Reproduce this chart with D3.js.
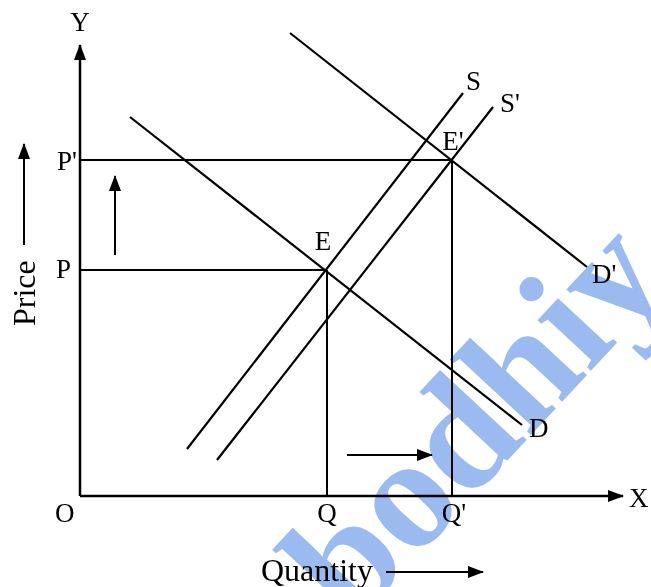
<!DOCTYPE html>
<html><head><meta charset="utf-8">
<script src="https://cdn.jsdelivr.net/npm/d3@7"></script>
<style>body{margin:0;background:#fff}svg{display:block}text{font-family:"Liberation Serif","Times New Roman",serif}</style>
</head><body>
<svg id="c" width="651" height="587"></svg>
<script>
// Data (diagram units: quantity on x, price on y)
const axisLabels = {x:"X", y:"Y", origin:"O", xTitle:"Quantity", yTitle:"Price"};
const priceLevels = [{name:"P", v:226}, {name:"P'", v:336}];
const quantityLevels = [{name:"Q", v:247}, {name:"Q'", v:372}];
const equilibria = [{name:"E", q:247, p:226}, {name:"E'", q:372, p:336}];
const curveD  = [[50,379],[442,71]];
const curveD2 = [[210,463],[507,229]];
const curveS  = [[107,47],[383,403]];
const curveS2 = [[137,36],[413,389]];
const curves = [
  {name:"D",  pts:curveD,  lx:529, ly:437},
  {name:"D'", pts:curveD2, lx:592, ly:283},
  {name:"S",  pts:curveS,  lx:466, ly:90},
  {name:"S'", pts:curveS2, lx:500, ly:112}
];
const watermark = "bodhiy";

const svg = d3.select("#c");
const x = d3.scaleLinear().domain([0,540]).range([80,620]);
const y = d3.scaleLinear().domain([0,450]).range([496,46]);

const defs = svg.append("defs");
defs.append("marker").attr("id","ah").attr("viewBox","0 0 16 12").attr("refX",15).attr("refY",6)
  .attr("markerWidth",16).attr("markerHeight",12).attr("markerUnits","userSpaceOnUse").attr("orient","auto")
  .append("path").attr("d","M0,0 L16,6 L0,12 Z").attr("fill","#000");

const g = svg.append("g");
const line = d3.line().x(d=>x(d[0])).y(d=>y(d[1]));

// axes
g.append("line").attr("x1",x(0)).attr("y1",y(0)).attr("x2",x(0)).attr("y2",y(451)).attr("stroke","#000").attr("stroke-width",2.5).attr("marker-end","url(#ah)");
g.append("line").attr("x1",x(0)).attr("y1",y(0)).attr("x2",x(543)).attr("y2",y(0)).attr("stroke","#000").attr("stroke-width",2.5).attr("marker-end","url(#ah)");

// guide lines
priceLevels.forEach((p,i)=>{
  const q = quantityLevels[i].v;
  g.append("line").attr("x1",x(0)).attr("y1",y(p.v)).attr("x2",x(q)).attr("y2",y(p.v)).attr("stroke","#000").attr("stroke-width",2);
  g.append("line").attr("x1",x(q)).attr("y1",y(p.v)).attr("x2",x(q)).attr("y2",y(0)).attr("stroke","#000").attr("stroke-width",2);
});

// curves
curves.forEach(c=>{
  g.append("path").attr("d",line(c.pts)).attr("fill","none").attr("stroke","#000").attr("stroke-width",2.2);
});

// shift arrows
function arrow(x1,y1,x2,y2){
  g.append("line").attr("x1",x1).attr("y1",y1).attr("x2",x2).attr("y2",y2).attr("stroke","#000").attr("stroke-width",2).attr("marker-end","url(#ah)");
}
arrow(x(35),y(241),x(35),y(320));     // inner up arrow
arrow(x(267),y(41),x(352),y(41));     // right shift arrow
arrow(24,245,24,144);                 // Price arrow
arrow(386,572,483,572);               // Quantity arrow

// text labels
const fs = 27;
function lab(t,xx,yy,anchor){
  g.append("text").attr("x",xx).attr("y",yy).attr("font-size",fs).attr("text-anchor",anchor||"start").text(t);
}
lab(axisLabels.y, x(0), 31, "middle");
lab(axisLabels.x, 629, 507);
lab(axisLabels.origin, 55, 522);
lab(priceLevels[0].name, 56, 278);
lab(priceLevels[1].name, 57, 170);
lab(quantityLevels[0].name, x(quantityLevels[0].v), 522, "middle");
lab(quantityLevels[1].name, x(quantityLevels[1].v)+2, 522, "middle");
lab(equilibria[0].name, x(equilibria[0].q)-4, 250, "middle");
lab(equilibria[1].name, x(equilibria[1].q)+1, 150, "middle");
curves.forEach(c=>lab(c.name, c.lx, c.ly));
g.append("text").attr("x",261).attr("y",581).attr("font-size",32).text(axisLabels.xTitle);
g.append("text").attr("transform","translate(35,326) rotate(-90)").attr("font-size",32).text(axisLabels.yTitle);

// watermark
svg.append("text").attr("transform","translate(352,627) rotate(-47)")
  .attr("font-size",160).attr("font-weight","bold").attr("fill","#9bbaf0")
  .style("mix-blend-mode","multiply").text(watermark);
</script>
</body></html>
